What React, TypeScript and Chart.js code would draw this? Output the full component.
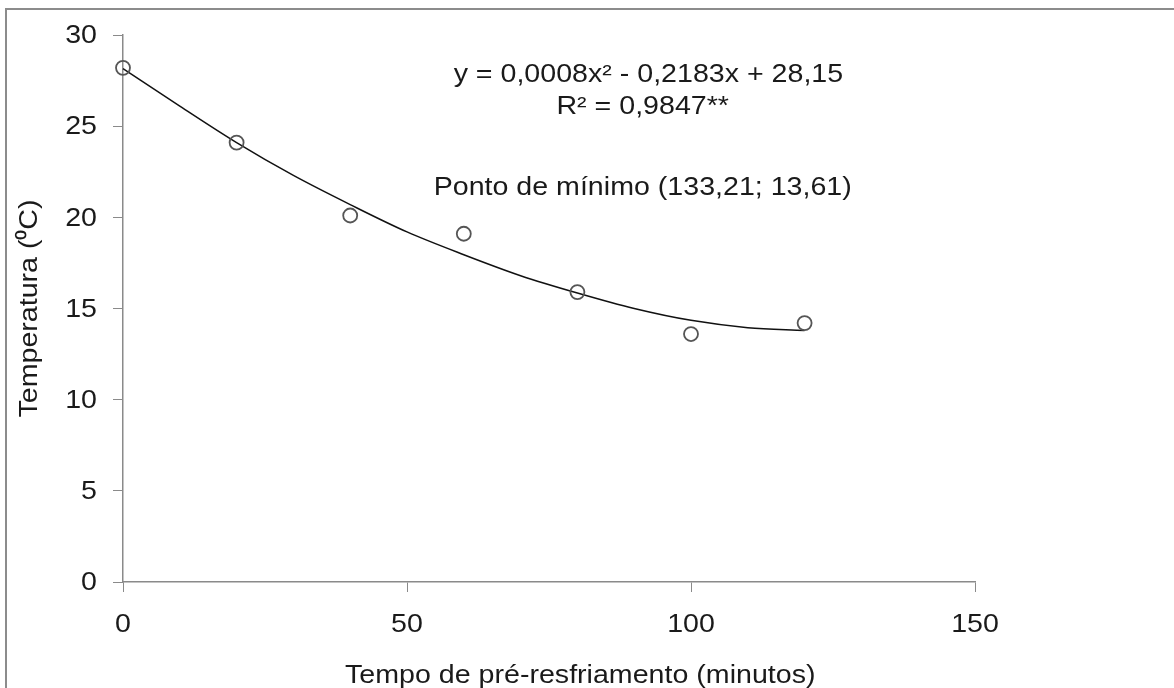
import React, { useEffect, useRef } from "react";
import { Chart, registerables } from "chart.js";

Chart.register(...registerables);

// Observed data
const tempoMin = [0, 20, 40, 60, 80, 100, 120];
const temperatura = [28.2, 24.1, 20.1, 19.1, 15.9, 13.6, 14.2];

// Fitted trend curve
const curveX = [0, 10, 20, 30, 40, 50, 60, 70, 80, 90, 100, 110, 120];
const curveY = [28.15, 26.1, 24.1, 22.3, 20.7, 19.2, 17.95, 16.8, 15.85, 15.0, 14.35, 13.95, 13.8];

const xTicks = [0, 50, 100, 150];
const yTicks = [0, 5, 10, 15, 20, 25, 30];

const annotationLines = [
  "y = 0,0008x² - 0,2183x + 28,15",
  "R² = 0,9847**",
  "Ponto de mínimo (133,21; 13,61)",
];
const xTitle = "Tempo de pré-resfriamento (minutos)";
const yTitle = "Temperatura (⁰C)";

const FONT = "'Liberation Sans', Arial, sans-serif";
const TEXT = "#1a1a1a";
const AXIS = "#8a8a8a";
const FONT_SIZE = 26;
const STRETCH = 1.1;

function stretchedText(ctx: any, text: string, x: number, y: number, align: string, rotate = 0) {
  ctx.save();
  ctx.translate(x, y);
  if (rotate) ctx.rotate(rotate);
  ctx.scale(STRETCH, 1);
  ctx.textAlign = align;
  ctx.textBaseline = "middle";
  ctx.fillText(text, 0, 0);
  ctx.restore();
}

export default function App() {
  const ref = useRef<HTMLCanvasElement | null>(null);

  useEffect(() => {
    if (!ref.current) return;
    const textPlugin = {
      id: "texts",
      afterDraw(chart: any) {
        const ctx = chart.ctx;
        const xs = chart.scales.x;
        const ys = chart.scales.y;
        ctx.save();
        ctx.fillStyle = TEXT;
        ctx.font = `${FONT_SIZE}px ${FONT}`;
        // tick labels placed from the scales
        yTicks.forEach((v) => {
          stretchedText(ctx, String(v), 97, ys.getPixelForValue(v) + 1, "right");
        });
        xTicks.forEach((v) => {
          stretchedText(ctx, String(v), xs.getPixelForValue(v), 625, "center");
        });
        // annotation block
        const ax = xs.getPixelForValue(91.5);
        stretchedText(ctx, annotationLines[0], xs.getPixelForValue(92.5), ys.getPixelForValue(27.8), "center");
        stretchedText(ctx, annotationLines[1], ax, ys.getPixelForValue(26.05), "center");
        stretchedText(ctx, annotationLines[2], ax, ys.getPixelForValue(21.6), "center");
        // axis titles
        stretchedText(ctx, xTitle, xs.getPixelForValue(80.5), 676, "center");
        stretchedText(ctx, yTitle, 30, (ys.top + ys.bottom) / 2, "center", -Math.PI / 2);
        ctx.restore();
      },
    };

    const chart = new Chart(ref.current, {
      type: "scatter",
      data: {
        datasets: [
          {
            label: "Ajuste",
            data: curveX.map((x, i) => ({ x, y: curveY[i] })),
            showLine: true,
            borderColor: "#111",
            borderWidth: 1.5,
            pointRadius: 0,
            cubicInterpolationMode: "monotone",
            fill: false,
            clip: false,
            order: 2,
          },
          {
            label: "Temperatura",
            data: tempoMin.map((x, i) => ({ x, y: temperatura[i] })),
            showLine: false,
            pointRadius: 7,
            pointBorderWidth: 1.8,
            pointBorderColor: "#555",
            pointBackgroundColor: "rgba(255,255,255,0)",
            clip: false,
            order: 1,
          },
        ],
      },
      options: {
        responsive: false,
        animation: false,
        events: [],
        layout: { padding: { left: 0, top: 35, right: 199, bottom: 0 } },
        plugins: { legend: { display: false }, tooltip: { enabled: false } },
        scales: {
          x: {
            type: "linear",
            min: 0,
            max: 150,
            afterBuildTicks: (s: any) => {
              s.ticks = xTicks.map((v) => ({ value: v }));
            },
            afterFit: (s: any) => {
              s.height = 106;
            },
            grid: { drawOnChartArea: false, tickLength: 10, color: AXIS, tickColor: AXIS },
            border: { color: AXIS, width: 1.5 },
            ticks: { display: false },
          },
          y: {
            type: "linear",
            min: 0,
            max: 30,
            afterBuildTicks: (s: any) => {
              s.ticks = yTicks.map((v) => ({ value: v }));
            },
            afterFit: (s: any) => {
              s.width = 123;
            },
            grid: { drawOnChartArea: false, tickLength: 10, color: AXIS, tickColor: AXIS },
            border: { color: AXIS, width: 1.5 },
            ticks: { display: false },
          },
        },
      },
      plugins: [textPlugin],
    } as any);
    return () => chart.destroy();
  }, []);

  return (
    <div style={{ position: "fixed", left: 0, top: 0, width: 1174, height: 688, background: "#fff", overflow: "hidden" }}>
      <div
        style={{
          position: "absolute",
          left: 5,
          top: 8,
          width: 1300,
          height: 800,
          borderTop: "2px solid #8c8c8c",
          borderLeft: "2px solid #8c8c8c",
          boxSizing: "border-box",
        }}
      />
      <canvas ref={ref} width={1174} height={688} style={{ position: "absolute", left: 0, top: 0 }} />
    </div>
  );
}
